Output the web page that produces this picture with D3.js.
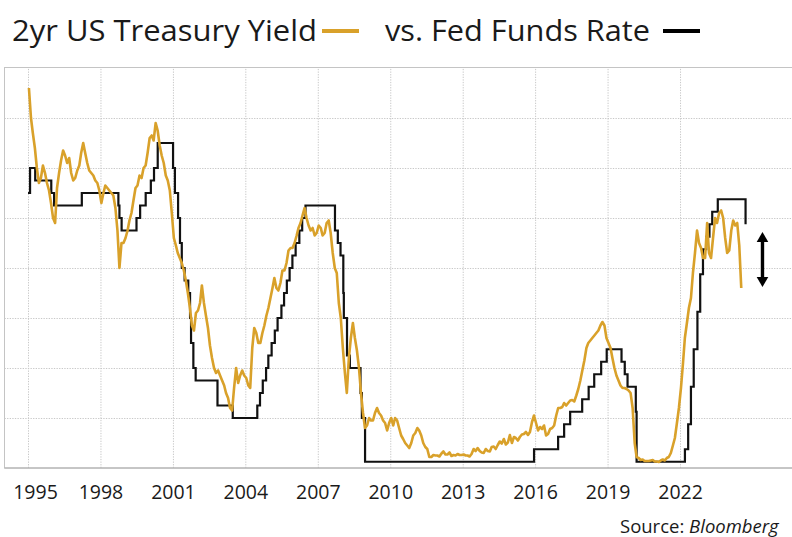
<!DOCTYPE html>
<html>
<head>
<meta charset="utf-8">
<script src="https://cdn.jsdelivr.net/npm/d3@7"></script>
<style>
  html, body { margin: 0; padding: 0; background: #ffffff; }
  svg { display: block; }
  text { font-family: "Open Sans", "Noto Sans", sans-serif; fill: #1a1a1a; }
</style>
</head>
<body>
<script>
// ---------------- DATA ----------------
const startYear = 1995;
// 2yr US Treasury yield, monthly (%), Jan 1995 .. Jul 2024
const twoYearYield = [
  7.6, 7.0, 6.7, 6.4, 6.0, 5.7, 5.8, 6.05, 5.9, 5.7, 5.55, 5.3,        // 1995
  5.0, 4.9, 5.6, 5.9, 6.15, 6.35, 6.25, 6.1, 6.2, 5.9, 5.75, 5.8,      // 1996
  5.95, 6.05, 6.3, 6.5, 6.3, 6.1, 5.95, 5.9, 5.85, 5.75, 5.7, 5.55,    // 1997
  5.3, 5.5, 5.65, 5.6, 5.55, 5.5, 5.45, 5.2, 4.75, 4.0, 4.5, 4.5,      // 1998
  4.6, 4.75, 4.95, 5.1, 5.35, 5.6, 5.65, 5.85, 5.8, 6.0, 6.05, 6.3,    // 1999
  6.6, 6.65, 6.55, 6.9, 6.75, 6.45, 6.25, 6.1, 5.85, 5.75, 5.55, 5.1,  // 2000
  4.6, 4.45, 4.3, 4.2, 4.1, 3.95, 3.75, 3.5, 3.2, 2.85, 2.75, 3.1,     // 2001
  3.15, 3.3, 3.65, 3.3, 3.05, 2.8, 2.45, 2.2, 2.0, 1.9, 1.95, 1.85,    // 2002
  1.75, 1.65, 1.5, 1.4, 1.2, 1.15, 1.6, 2.0, 1.7, 1.85, 1.95, 1.85,    // 2003
  1.8, 1.65, 1.6, 2.4, 2.8, 2.7, 2.5, 2.5, 2.7, 2.85, 3.05, 3.2,       // 2004
  3.4, 3.6, 3.8, 3.6, 3.55, 3.7, 3.95, 3.95, 4.1, 4.35, 4.4, 4.4,      // 2005
  4.5, 4.65, 4.8, 4.9, 5.05, 5.2, 5.0, 4.85, 4.75, 4.8, 4.65, 4.7,     // 2006
  4.85, 4.8, 4.65, 4.7, 4.9, 4.95, 4.7, 4.3, 4.0, 3.9, 3.3, 3.0,       // 2007
  2.4, 1.9, 1.5, 2.2, 2.6, 2.9, 2.6, 2.35, 2.0, 1.5, 1.1, 0.8,         // 2008
  0.85, 1.0, 0.95, 0.95, 1.1, 1.2, 1.1, 1.05, 0.95, 0.9, 0.75, 0.9,    // 2009
  1.0, 0.85, 1.0, 0.95, 0.8, 0.65, 0.58, 0.5, 0.45, 0.4, 0.5, 0.65,    // 2010
  0.7, 0.8, 0.75, 0.65, 0.5, 0.42, 0.38, 0.22, 0.22, 0.26, 0.25, 0.25, // 2011
  0.23, 0.29, 0.33, 0.27, 0.27, 0.31, 0.24, 0.26, 0.25, 0.28, 0.26, 0.26, // 2012
  0.27, 0.25, 0.25, 0.23, 0.28, 0.38, 0.34, 0.4, 0.34, 0.31, 0.3, 0.38,   // 2013
  0.34, 0.33, 0.42, 0.43, 0.38, 0.46, 0.53, 0.49, 0.58, 0.47, 0.51, 0.66, // 2014
  0.5, 0.62, 0.6, 0.55, 0.62, 0.67, 0.68, 0.72, 0.66, 0.72, 0.92, 1.05,   // 2015
  0.9, 0.75, 0.82, 0.78, 0.85, 0.65, 0.68, 0.78, 0.8, 0.85, 1.05, 1.2,    // 2016
  1.2, 1.22, 1.3, 1.25, 1.3, 1.35, 1.36, 1.33, 1.45, 1.58, 1.75, 1.95,    // 2017
  2.15, 2.4, 2.5, 2.55, 2.6, 2.65, 2.7, 2.75, 2.85, 2.92, 2.85, 2.6,      // 2018
  2.5, 2.4, 2.2, 2.0, 1.85, 1.75, 1.65, 1.6, 1.6, 1.58, 1.55, 1.5,        // 2019
  1.2, 0.5, 0.22, 0.2, 0.16, 0.17, 0.14, 0.14, 0.14, 0.15, 0.16, 0.13,    // 2020
  0.13, 0.12, 0.15, 0.17, 0.15, 0.2, 0.22, 0.3, 0.45, 0.6, 0.9, 1.2,      // 2021
  1.6, 2.1, 2.6, 2.9, 3.2, 3.4, 3.9, 4.3, 4.75, 4.5, 4.4, 4.2,            // 2022
  4.2, 4.9, 4.3, 4.2, 4.6, 5.0, 4.9, 5.1, 5.15, 5.0, 4.6, 4.3,            // 2023
  4.35, 4.75, 4.95, 4.85, 4.9, 4.45, 3.6                                  // 2024
];

// Fed Funds target rate (midpoint of range), change dates and levels (%)
const fedFundsDates = [
  "1995-01-01","1995-02-01","1995-04-20","1995-12-19","1996-01-31","1997-03-25",
  "1998-09-29","1998-10-15","1998-11-17","1999-06-30","1999-08-24","1999-11-16",
  "2000-02-02","2000-03-21","2000-05-16","2001-01-03","2001-01-31","2001-03-20",
  "2001-04-18","2001-05-15","2001-06-27","2001-08-21","2001-09-17","2001-10-02",
  "2001-11-06","2001-12-11","2002-11-06","2003-06-25","2004-06-30","2004-08-10",
  "2004-09-21","2004-11-10","2004-12-14","2005-02-02","2005-03-22","2005-05-03",
  "2005-06-30","2005-08-09","2005-09-20","2005-11-01","2005-12-13","2006-01-31",
  "2006-03-28","2006-05-10","2006-06-29","2007-09-18","2007-10-31","2007-12-11",
  "2008-01-22","2008-01-30","2008-03-18","2008-04-30","2008-10-08","2008-10-29",
  "2008-12-16","2015-12-16","2016-12-14","2017-03-15","2017-06-14","2017-12-13",
  "2018-03-21","2018-06-13","2018-09-26","2018-12-19","2019-07-31","2019-09-18",
  "2019-10-30","2020-03-03","2020-03-15","2022-03-16","2022-05-04","2022-06-15",
  "2022-07-27","2022-09-21","2022-11-02","2022-12-14","2023-02-01","2023-03-22",
  "2023-05-03","2023-07-26","2024-09-18"
];
const fedFundsRates = [
  5.5, 6.0, 5.75, 5.5, 5.25, 5.5,
  5.25, 5.0, 4.75, 5.0, 5.25, 5.5,
  5.75, 6.0, 6.5, 6.0, 5.5, 5.0,
  4.5, 4.0, 3.75, 3.5, 3.0, 2.5,
  2.0, 1.75, 1.25, 1.0, 1.25, 1.5,
  1.75, 2.0, 2.25, 2.5, 2.75, 3.0,
  3.25, 3.5, 3.75, 4.0, 4.25, 4.5,
  4.75, 5.0, 5.25, 4.75, 4.5, 4.25,
  3.5, 3.0, 2.25, 2.0, 1.5, 1.0,
  0.125, 0.375, 0.625, 0.875, 1.125, 1.375,
  1.625, 1.875, 2.125, 2.375, 2.125, 1.875,
  1.625, 1.125, 0.125, 0.375, 0.875, 1.625,
  2.375, 3.125, 3.875, 4.375, 4.625, 4.875,
  5.125, 5.375, 4.875
];

const tickYears = [1995, 1998, 2001, 2004, 2007, 2010, 2013, 2016, 2019, 2022];
const yGridValues = [1, 2, 3, 4, 5, 6, 7];
const yDomain = [0, 8];
const xDomainYears = [1995, 2025];

// annotation arrow (date, from-value, to-value)
const arrowDate = "2025-06-01";
const arrowRange = [4.72, 3.62];

const titleLeft = "2yr US Treasury Yield";
const titleRight = "vs. Fed Funds Rate";
const sourceLabel = "Source: ";
const sourceName = "Bloomberg";

// ---------------- STYLE ----------------
const GOLD = "#D9A12A";
const BLACK = "#111111";
const W = 792, H = 537;
const plot = { left: 4.5, top: 67.5, bottom: 468, right: 810 };

const svg = d3.select("body").append("svg")
  .attr("width", W).attr("height", H);

const x = d3.scaleTime()
  .domain(xDomainYears.map(yv => new Date(yv, 0, 1)))
  .range([28, 752.5]);
const y = d3.scaleLinear().domain(yDomain).range([468, 68]);

// plot frame
svg.append("rect")
  .attr("x", plot.left).attr("y", plot.top)
  .attr("width", plot.right - plot.left).attr("height", plot.bottom - plot.top)
  .attr("fill", "none").attr("stroke", "#c4c4c4").attr("stroke-width", 1);

// horizontal gridlines via axis
const yGrid = svg.append("g")
  .attr("transform", `translate(${plot.left},0)`)
  .call(d3.axisRight(y).tickValues(yGridValues).tickSize(plot.right - plot.left).tickFormat(""));
yGrid.select(".domain").remove();
yGrid.selectAll("line").attr("stroke", "#c8c8c8").attr("stroke-dasharray", "1.3,1.3");

// vertical gridlines via axis
const tickDates = tickYears.map(yv => new Date(yv, 0, 1));
const xGrid = svg.append("g")
  .attr("transform", `translate(0,${plot.bottom})`)
  .call(d3.axisBottom(x).tickValues(tickDates).tickSize(-(plot.bottom - plot.top)).tickFormat(""));
xGrid.select(".domain").remove();
xGrid.selectAll("line").attr("stroke", "#c8c8c8").attr("stroke-dasharray", "1.3,1.3");

// bottom border a touch darker
svg.append("line")
  .attr("x1", plot.left).attr("x2", plot.right)
  .attr("y1", plot.bottom).attr("y2", plot.bottom)
  .attr("stroke", "#aaaaaa").attr("stroke-width", 1.2);

// x tick labels
const xAxis = svg.append("g")
  .attr("transform", `translate(0,${plot.bottom})`)
  .call(d3.axisBottom(x).tickValues(tickDates).tickSize(0).tickPadding(17)
    .tickFormat(d3.timeFormat("%Y")));
xAxis.select(".domain").remove();
xAxis.selectAll("text")
  .attr("font-size", "19.5px")
  .attr("font-family", "'Open Sans', sans-serif")
  .attr("fill", "#1a1a1a");
xAxis.selectAll(".tick").filter((d, i) => i === 0).select("text").attr("dx", 7);

// data
const yieldData = twoYearYield.map((v, i) => ({ date: new Date(startYear, i, 15), v }));
const fedData = fedFundsDates.map((d, i) => ({ date: d3.timeParse("%Y-%m-%d")(d), v: fedFundsRates[i] }));

const fedLine = d3.line().x(d => x(d.date)).y(d => y(d.v)).curve(d3.curveStepAfter);
const yieldLine = d3.line().x(d => x(d.date)).y(d => y(d.v)).curve(d3.curveLinear);

svg.append("path").datum(fedData)
  .attr("d", fedLine).attr("fill", "none")
  .attr("stroke", BLACK).attr("stroke-width", 2.2).attr("stroke-linejoin", "miter");

svg.append("path").datum(yieldData)
  .attr("d", yieldLine).attr("fill", "none")
  .attr("stroke", GOLD).attr("stroke-width", 2.6).attr("stroke-linejoin", "round");

// double-headed arrow annotation
const ax = x(d3.timeParse("%Y-%m-%d")(arrowDate));
const ayTop = y(arrowRange[0]), ayBot = y(arrowRange[1]);
const headH = 10, headW = 5.8;
svg.append("line")
  .attr("x1", ax).attr("x2", ax)
  .attr("y1", ayTop + headH - 1).attr("y2", ayBot - headH + 1)
  .attr("stroke", "#000").attr("stroke-width", 3.4);
svg.append("path")
  .attr("d", `M${ax},${ayTop} L${ax - headW},${ayTop + headH} L${ax + headW},${ayTop + headH} Z`)
  .attr("fill", "#000");
svg.append("path")
  .attr("d", `M${ax},${ayBot} L${ax - headW},${ayBot - headH} L${ax + headW},${ayBot - headH} Z`)
  .attr("fill", "#000");

// title + legend keys
svg.append("text")
  .attr("x", 12).attr("y", 41)
  .attr("font-size", "30px")
  .attr("textLength", 305).attr("lengthAdjust", "spacingAndGlyphs")
  .text(titleLeft);
svg.append("line")
  .attr("x1", 322).attr("x2", 359).attr("y1", 31).attr("y2", 31)
  .attr("stroke", GOLD).attr("stroke-width", 4);
svg.append("text")
  .attr("x", 385).attr("y", 41)
  .attr("font-size", "30px")
  .attr("textLength", 265).attr("lengthAdjust", "spacingAndGlyphs")
  .text(titleRight);
svg.append("line")
  .attr("x1", 663).attr("x2", 700).attr("y1", 31).attr("y2", 31)
  .attr("stroke", "#000").attr("stroke-width", 4);

// source
const src = svg.append("text")
  .attr("x", 620).attr("y", 533)
  .attr("font-size", "18.5px");
src.append("tspan").text(sourceLabel);
src.append("tspan").attr("font-style", "italic").text(sourceName);
</script>
</body>
</html>
